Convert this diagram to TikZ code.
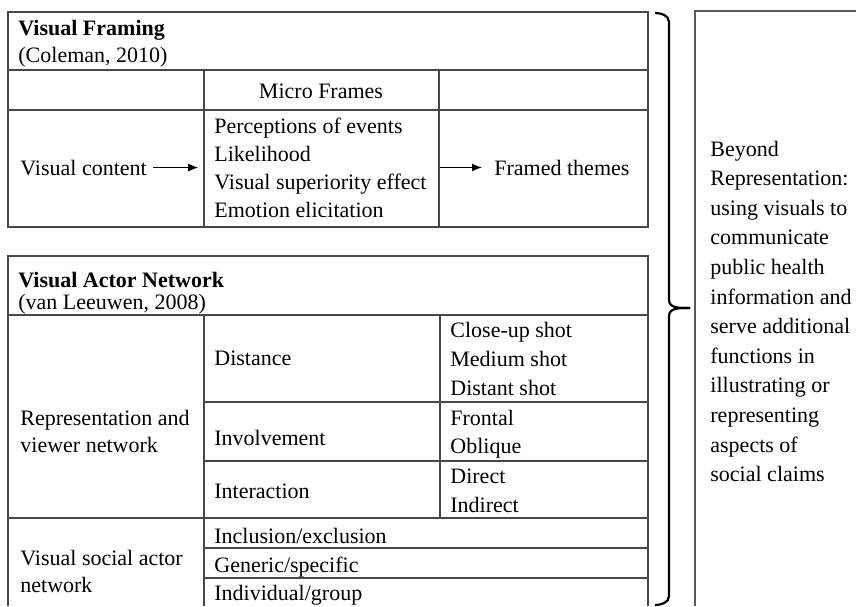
\documentclass[tikz,border=0pt]{standalone}
\usepackage{fontspec}
\setmainfont{Liberation Serif}
\usetikzlibrary{arrows.meta}
\begin{document}
\begin{tikzpicture}[x=0.5pt, y=-0.5pt, >={Latex[length=5pt,width=4pt]},
cell/.style={draw=black!72, line width=0.6pt},
txt/.style={anchor=base west, inner sep=0, font=\fontsize{11}{14}\selectfont},
hd/.style={txt, font=\fontsize{11}{14}\selectfont\bfseries},
flow/.style={->, line width=0.6pt},
brace/.style={black, line width=1.1pt},
sidebox/.style={draw=black!65, line width=1pt},
]
\useasboundingbox (0,0) rectangle (856,606); %%%%%%% SIZE OF THE PICTURE

%%%%%%%%%%%%%%%%%%%%%%%% VISUAL FRAMING %%%%%%%%%%%%%%%%%%%%%%%%
\draw[cell] (8,12) rectangle (648,227);
\draw[cell] (8,70) -- (648,70);
\draw[cell] (8,110) -- (648,110);
\draw[cell] (204,70) -- (204,227);
\draw[cell] (439,70) -- (439,227);

\node[hd] (VFTitle) at (18,35) {Visual Framing};
\node[txt] (VFRef) at (18,62) {(Coleman, 2010)};
\node[txt, anchor=base] (MicroHead) at (321,98) {Micro Frames};
\node[txt] (VisContent) at (20,175) {Visual content};
\node[txt] (Micro1) at (214,133) {Perceptions of events};
\node[txt] (Micro2) at (214,161) {Likelihood};
\node[txt] (Micro3) at (214,189) {Visual superiority effect};
\node[txt] (Micro4) at (214,217) {Emotion elicitation};
\node[txt] (Themes) at (494,175) {Framed themes};

\coordinate (VisEnd) at ([xshift=25.5pt]VisContent.east);
\coordinate (ThemesStart) at ([xshift=-27pt]Themes.west);
\draw[flow] ([xshift=3pt]VisContent.east) -- (VisEnd);
\draw[flow] (ThemesStart) -- ([xshift=-6pt]Themes.west);

%%%%%%%%%%%%%%%%%%%%%%%% VISUAL ACTOR NETWORK %%%%%%%%%%%%%%%%%%%%%%%%
\draw[cell] (8,606) -- (8,256) -- (648,256) -- (648,606);
\draw[cell] (8,315) -- (648,315);
\draw[cell] (204,315) -- (204,606);
\draw[cell] (440,315) -- (440,518);
\draw[cell] (204,402) -- (648,402);
\draw[cell] (204,461) -- (648,461);
\draw[cell] (8,518) -- (648,518);
\draw[cell] (204,548) -- (648,548);
\draw[cell] (204,578) -- (648,578);

\node[hd] (VANTitle) at (18,287) {Visual Actor Network};
\node[txt] (VANRef) at (18,309) {(van Leeuwen, 2008)};

\node[txt] (RepA) at (20,425) {Representation and};
\node[txt] (RepB) at (20,452) {viewer network};
\node[txt] (Distance) at (214,365) {Distance};
\node[txt] (Dist1) at (450,337) {Close-up shot};
\node[txt] (Dist2) at (450,366) {Medium shot};
\node[txt] (Dist3) at (450,395) {Distant shot};
\node[txt] (Involve) at (214,445) {Involvement};
\node[txt] (Inv1) at (450,425) {Frontal};
\node[txt] (Inv2) at (450,453) {Oblique};
\node[txt] (Interact) at (214,498) {Interaction};
\node[txt] (Int1) at (450,483) {Direct};
\node[txt] (Int2) at (450,512) {Indirect};

\node[txt] (SocA) at (20,565) {Visual social actor};
\node[txt] (SocB) at (20,592) {network};
\node[txt] (Soc1) at (214,543) {Inclusion/exclusion};
\node[txt] (Soc2) at (214,572) {Generic/specific};
\node[txt] (Soc3) at (214,600) {Individual/group};

%%%%%%%%%%%%%%%%%%%%%%%% BRACE %%%%%%%%%%%%%%%%%%%%%%%%
\coordinate (BraceTop) at (655,13);
\coordinate (BraceTip) at (690,308);
\coordinate (BraceBot) at (655,605);
\draw[brace] (BraceTop) to[out=0,in=90] (669,22) -- (669,300)
  to[out=-90,in=180] (BraceTip);
\draw[brace] (BraceBot) to[out=0,in=-90] (669,596) -- (669,316)
  to[out=90,in=180] (BraceTip);

%%%%%%%%%%%%%%%%%%%%%%%% SIDE BOX %%%%%%%%%%%%%%%%%%%%%%%%
\draw[sidebox] (856,11) -- (695,11) -- (695,606);
\foreach \line [count=\i from 0] in {Beyond, Representation:, using visuals to,
  communicate, public health, information and, serve additional, functions in,
  illustrating or, representing, aspects of, social claims}
  \node[txt] (Side\i) at (710,156+29.6*\i) {\line};
\end{tikzpicture}
\end{document}
